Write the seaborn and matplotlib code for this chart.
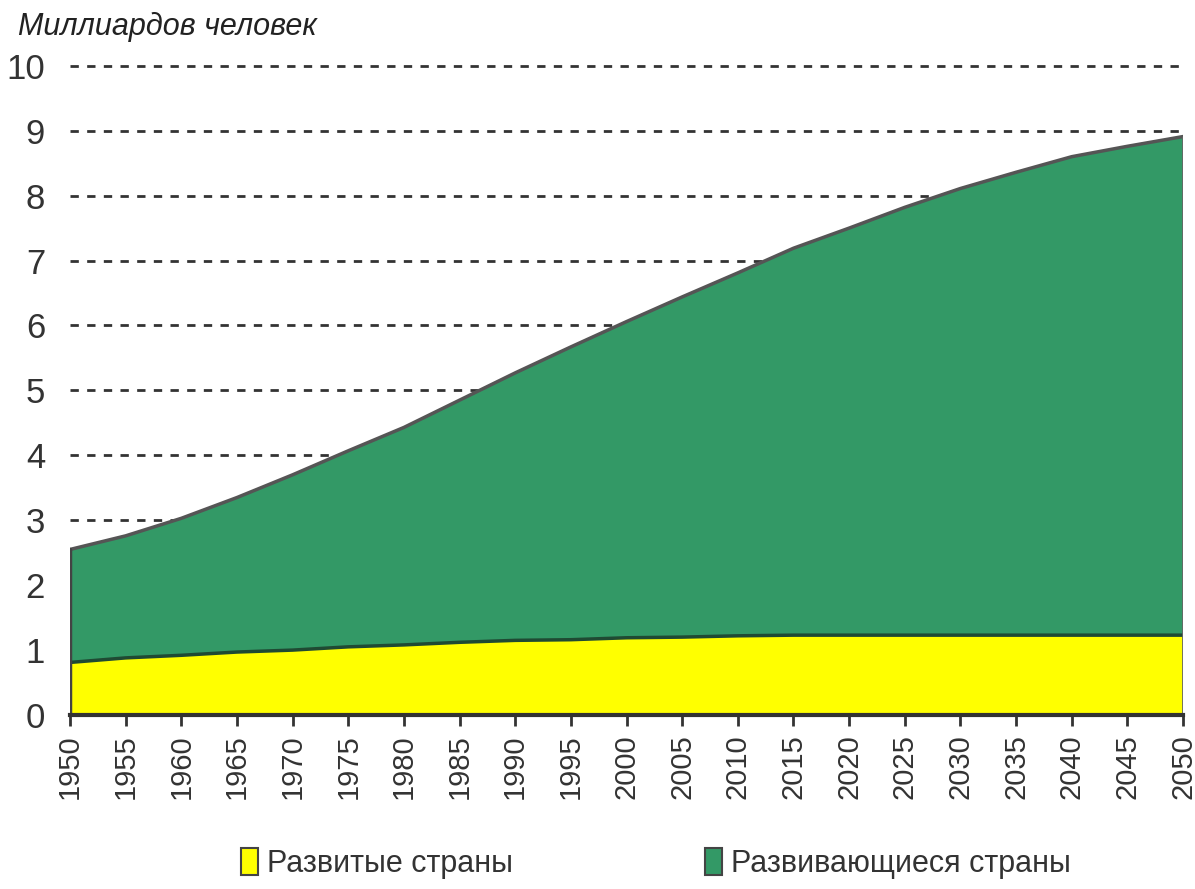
import matplotlib
matplotlib.use("Agg")
import matplotlib.pyplot as plt
from matplotlib.patches import Patch
import pandas as pd
import seaborn as sns

years = [1950, 1955, 1960, 1965, 1970, 1975, 1980, 1985, 1990, 1995, 2000,
         2005, 2010, 2015, 2020, 2025, 2030, 2035, 2040, 2045, 2050]
total = [2.55, 2.76, 3.03, 3.35, 3.70, 4.07, 4.43, 4.85, 5.27, 5.67, 6.06,
         6.44, 6.81, 7.19, 7.50, 7.82, 8.11, 8.36, 8.60, 8.76, 8.91]
developed = [0.81, 0.88, 0.92, 0.97, 1.00, 1.05, 1.08, 1.12, 1.15, 1.16, 1.19,
             1.20, 1.22, 1.23, 1.23, 1.23, 1.23, 1.23, 1.23, 1.23, 1.23]
labels = ["Развитые страны", "Развивающиеся страны"]
colors = ["#ffff00", "#339966"]

df = pd.DataFrame({"year": years, "total": total, "developed": developed})
df["developing"] = df["total"] - df["developed"]

sns.set_theme(style="white")
plt.rcParams["font.family"] = ["Liberation Sans", "DejaVu Sans"]

fig = plt.figure(figsize=(11.95, 8.89), dpi=100)
ax = fig.add_axes([0.0586, 0.1957, 0.9314, 0.7303])

ax.stackplot(df["year"], df["developed"], df["developing"], colors=colors,
             edgecolor="none", zorder=2)
sns.lineplot(data=df, x="year", y="developed", color="#1f4a33", lw=2.5, ax=ax, zorder=3)
sns.lineplot(data=df, x="year", y="total", color="#555555", lw=2.5, ax=ax, zorder=3)
ax.plot([1950, 1950], [0, total[0]], color="#444444", lw=2.5, zorder=3)
ax.plot([2050, 2050], [0, total[-1]], color="#666666", lw=2, zorder=3)

ax.set_xlim(1950, 2050)
ax.set_ylim(0, 10)
ax.set_yticks(range(0, 11))
ax.set_xticks(years)
ax.set_xticklabels([str(y) for y in years], rotation=90, fontsize=21, color="#333333")
ax.tick_params(axis="y", length=0, labelsize=25, labelcolor="#333333", pad=18)
ax.tick_params(axis="x", length=8, width=2, color="#333333", bottom=True, pad=6)
ax.set_xlabel("")
ax.set_ylabel("")

for v in range(1, 11):
    ax.axhline(v, color="#333333", lw=2, ls=(0, (3, 3)), zorder=1, clip_on=False)

for s in ["left", "right", "top"]:
    ax.spines[s].set_visible(False)
ax.spines["bottom"].set_color("#333333")
ax.spines["bottom"].set_linewidth(3)
ax.spines["bottom"].set_zorder(4)

fig.text(0.015, 0.953, "Миллиардов человек", fontsize=22, style="italic",
         color="#222222", va="bottom", ha="left")

handles = [Patch(facecolor=c, edgecolor="#444444", lw=1.5) for c in colors]
fig.legend(handles, labels, loc="lower center", bbox_to_anchor=(0.549, -0.02),
           ncol=2, frameon=False, fontsize=22, handlelength=0.55, handleheight=1.0,
           handletextpad=0.3, columnspacing=6.3, labelcolor="#333333")

fig.savefig("out.png", dpi=100)
